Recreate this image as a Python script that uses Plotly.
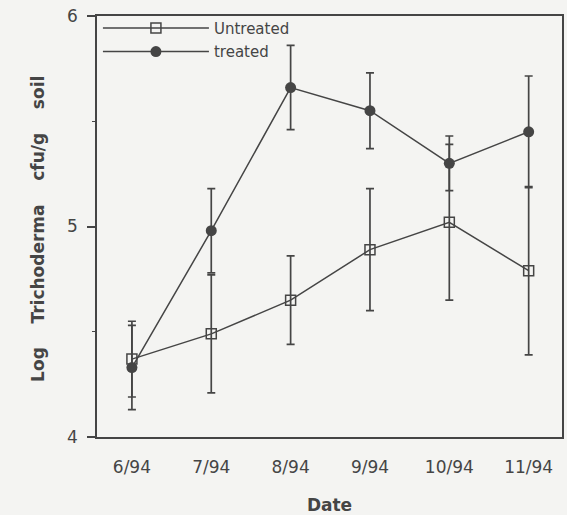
import plotly.graph_objects as go

dates = ["6/94", "7/94", "8/94", "9/94", "10/94", "11/94"]
untreated = [4.37, 4.49, 4.65, 4.89, 5.02, 4.79]
untreated_err = [0.18, 0.28, 0.21, 0.29, 0.37, 0.40]
treated = [4.33, 4.98, 5.66, 5.55, 5.30, 5.45]
treated_err = [0.20, 0.20, 0.20, 0.18, 0.13, 0.265]
y_ticks = [4, 5, 6]

ink = "#454545"
bg = "#f4f4f2"
fam = "DejaVu Sans, Liberation Sans, Arial, sans-serif"
xpos = list(range(len(dates)))

fig = go.Figure()
fig.add_trace(go.Scatter(
    x=xpos, y=untreated, name="Untreated", mode="lines+markers", legendgroup="u",
    line=dict(color=ink, width=1.5),
    marker=dict(symbol="square-open", size=10, color=ink, line=dict(width=1.5, color=ink)),
    error_y=dict(type="data", array=untreated_err, visible=True, color=ink, thickness=1.7, width=4),
))
fig.add_trace(go.Scatter(
    x=xpos, y=treated, name="treated", mode="lines+markers", legendgroup="t",
    line=dict(color=ink, width=1.5),
    marker=dict(symbol="circle", size=11, color=ink),
    error_y=dict(type="data", array=treated_err, visible=True, color=ink, thickness=1.7, width=4),
))

fig.update_layout(
    width=567, height=515,
    margin=dict(l=97, r=5, t=16, b=78, autoexpand=False),
    paper_bgcolor=bg, plot_bgcolor=bg,
    font=dict(family=fam, color=ink),
    showlegend=True,
    legend=dict(x=0.002, y=1.01, xanchor="left", yanchor="top", bgcolor="rgba(0,0,0,0)",
                font=dict(size=15, color=ink), itemwidth=106, tracegroupgap=1,
                traceorder="grouped"),
    xaxis=dict(
        range=[-0.44, 5.42], tickvals=xpos, ticktext=dates, showline=True, linecolor=ink,
        linewidth=1.5, mirror=True, ticks="", showgrid=False, zeroline=False,
        tickfont=dict(size=17, color=ink), ticklabelstandoff=14,
        title=dict(text="<b>Date</b>", font=dict(size=17, color=ink), standoff=27),
    ),
    yaxis=dict(
        range=[4, 6], tickvals=y_ticks, showline=True, linecolor=ink, linewidth=1.5,
        mirror=True, ticks="outside", ticklen=8, tickwidth=1.5, tickcolor=ink,
        showgrid=False, zeroline=False, tickfont=dict(size=17, color=ink),
        ticklabelstandoff=6,
        minor=dict(tickvals=[4.5, 5.5], ticks="outside", ticklen=3, tickwidth=1.2, tickcolor=ink),
    ),
    annotations=[dict(
        text="<b>Log\u00a0\u00a0\u00a0 Trichoderma\u00a0\u00a0\u00a0 cfu/g\u00a0\u00a0\u00a0 soil</b>",
        xref="paper", yref="paper",
        x=-0.153, y=0.494, textangle=-90, showarrow=False, font=dict(size=17, color=ink),
    )],
)

fig.write_html(
    "out.html",
    config={"displayModeBar": False},
    post_script="document.body.style.margin='0';document.body.style.background='%s';" % bg,
)
